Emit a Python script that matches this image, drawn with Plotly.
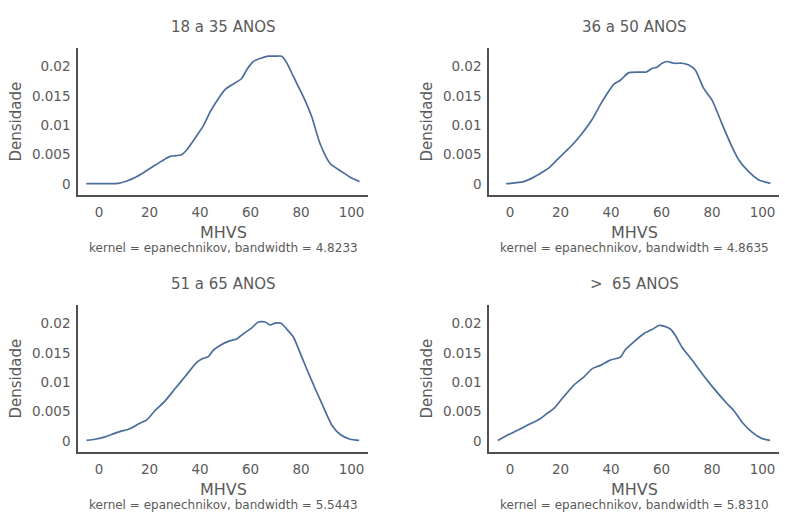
import plotly.graph_objects as go

# ---------------- data ----------------
panel_titles = ["18 a 35 ANOS", "36 a 50 ANOS", "51 a 65 ANOS", ">  65 ANOS"]
bandwidths = ["4.8233", "4.8635", "5.5443", "5.8310"]

x_18_35 = [-5, 3.7, 7.7, 11, 14.3, 18.2, 22.2, 24.8, 28.1, 30.1, 32.7, 34.7, 38, 41.3, 44, 47.3,
           49.9, 52.5, 56.5, 58.5, 61.1, 63.8, 67.1, 69.7, 72.3, 74.3, 77, 80.9, 84.2, 87.5,
           91.5, 96.1, 100, 103.1]
y_18_35 = [0.00005, 0.00005, 0.0001, 0.0005, 0.0011, 0.0021, 0.0032, 0.0039, 0.0047, 0.0048,
           0.0050, 0.0058, 0.0078, 0.0099, 0.0123, 0.0146, 0.0161, 0.0169, 0.0180, 0.0195,
           0.0209, 0.0214, 0.0218, 0.0218, 0.0218, 0.0207, 0.0183, 0.0149, 0.0115, 0.0069,
           0.0035, 0.0021, 0.0010, 0.0004]

x_36_50 = [-1.5, 2.1, 5.4, 8.7, 12, 15.3, 18.6, 21.9, 25.2, 28.5, 32.5, 36.4, 41.1, 43.7, 47,
           51, 54, 56.2, 58.2, 60.2, 62.2, 64.8, 68.1, 70.8, 73.4, 76.7, 80, 83.9, 87.3, 90.6,
           94.5, 98.5, 103.1]
y_36_50 = [0.00005, 0.0002, 0.0004, 0.0010, 0.0018, 0.0027, 0.0041, 0.0055, 0.0069, 0.0086,
           0.0110, 0.0140, 0.0170, 0.0177, 0.0190, 0.0191, 0.0191, 0.0197, 0.0199, 0.0206,
           0.0209, 0.0206, 0.0206, 0.0203, 0.0194, 0.0163, 0.0143, 0.0103, 0.0069, 0.0041,
           0.0021, 0.0007, 0.0001]

x_51_65 = [-4.9, -1.6, 2.4, 5, 8.3, 12.3, 15.6, 18.9, 22.2, 26.1, 30.1, 34.1, 38.7, 40.7, 43.3,
           45.3, 47.9, 51.2, 54.5, 57.2, 60.5, 63.1, 65.8, 67.7, 69.7, 72.1, 74.3, 77, 80.3,
           84.2, 88.2, 92.2, 95.5, 99.4, 103]
y_51_65 = [0.0001, 0.0003, 0.0007, 0.0011, 0.0016, 0.0021, 0.0029, 0.0036, 0.0052, 0.0068,
           0.0089, 0.0110, 0.0134, 0.0140, 0.0144, 0.0155, 0.0163, 0.0170, 0.0174, 0.0183,
           0.0193, 0.0203, 0.0203, 0.0198, 0.0201, 0.0201, 0.0191, 0.0177, 0.0143, 0.0103,
           0.0064, 0.0027, 0.0011, 0.0003, 0.0001]

x_65p = [-4.8, -0.5, 3.4, 7.4, 12, 14.7, 17.3, 20.6, 25.2, 29.2, 32.5, 35.8, 39.7, 43.7, 45.7,
         49, 52.9, 56.2, 58.9, 60.9, 63.5, 65.5, 68.1, 72.1, 76, 79.3, 82.6, 85.9, 88.6, 91.9,
         95.8, 99.8, 103]
y_65p = [0.0001, 0.0011, 0.0019, 0.0028, 0.0038, 0.0047, 0.0055, 0.0072, 0.0095, 0.0109,
         0.0123, 0.0129, 0.0138, 0.0143, 0.0156, 0.0169, 0.0183, 0.0190, 0.0197, 0.0196,
         0.0191, 0.0180, 0.0160, 0.0138, 0.0115, 0.0097, 0.0080, 0.0064, 0.0052, 0.0032,
         0.0015, 0.0004, 0.0001]

xs = [x_18_35, x_36_50, x_51_65, x_65p]
ys = [y_18_35, y_36_50, y_51_65, y_65p]

x_tickvals = [0, 20, 40, 60, 80, 100]
y_tickvals = [0, 0.005, 0.01, 0.015, 0.02]
y_ticktext = ["0", "0.005", "0.01", "0.015", "0.02"]

# ---------------- layout ----------------
W, H = 785, 514
FONT = "DejaVu Sans"
TXT = "#5a5a5a"
LINE = "#4a6d9c"

# pixel boxes of the four plot areas: (left, right, top, bottom)
boxes = [(78, 368, 48, 195), (489, 779, 48, 195), (78, 368, 305, 452), (489, 779, 305, 452)]

fig = go.Figure()
annotations = []
layout = {}
for i, (bx, x, y) in enumerate(zip(boxes, xs, ys)):
    l, r, t, b = bx
    sfx = "" if i == 0 else str(i + 1)
    fig.add_trace(go.Scatter(x=x, y=y, mode="lines",
                             line=dict(color=LINE, width=1.7, shape="spline", smoothing=0.6),
                             xaxis="x" + sfx, yaxis="y" + sfx, showlegend=False, hoverinfo="skip"))
    layout["xaxis" + sfx] = dict(domain=[l / W, r / W], anchor="y" + sfx, range=[-8.3, 106.5],
                                 tickvals=x_tickvals, showgrid=False, zeroline=False, showline=True,
                                 linecolor="#505050", linewidth=1.5, ticks="", ticklabelstandoff=4,
                                 tickfont=dict(family=FONT, size=13.5, color=TXT))
    layout["yaxis" + sfx] = dict(domain=[1 - b / H, 1 - t / H], anchor="x" + sfx,
                                 range=[-0.00188, 0.0232],
                                 tickvals=y_tickvals, ticktext=y_ticktext, showgrid=False,
                                 zeroline=False, showline=True, linecolor="#505050", linewidth=1.5,
                                 ticks="", ticklabelstandoff=3,
                                 tickfont=dict(family=FONT, size=13.5, color=TXT))
    cx = (l + r) / 2 / W
    annotations.append(dict(text=panel_titles[i], x=cx, y=1 - (t - 21) / H, xref="paper",
                            yref="paper", showarrow=False, font=dict(family=FONT, size=15, color=TXT),
                            xanchor="center", yanchor="middle"))
    annotations.append(dict(text="MHVS", x=cx, y=1 - (b + 37.5) / H, xref="paper", yref="paper",
                            showarrow=False, font=dict(family=FONT, size=16, color=TXT),
                            xanchor="center", yanchor="middle", borderpad=0))
    annotations.append(dict(text="kernel = epanechnikov, bandwidth = " + bandwidths[i], x=cx,
                            y=1 - (b + 53) / H, xref="paper", yref="paper", showarrow=False,
                            font=dict(family=FONT, size=12, color=TXT), xanchor="center",
                            yanchor="middle", borderpad=0))
    annotations.append(dict(text="Densidade", x=(l - 63) / W, y=1 - (t + b) / 2 / H,
                            xref="paper", yref="paper", showarrow=False, textangle=-90,
                            font=dict(family=FONT, size=15, color=TXT),
                            xanchor="center", yanchor="middle"))

fig.update_layout(width=W, height=H, margin=dict(l=0, r=0, t=0, b=0), paper_bgcolor="white",
                  plot_bgcolor="white", annotations=annotations, **layout)
fig.write_html("out.html", config={"displayModeBar": False},
               post_script="document.body.style.margin='0px';document.body.style.padding='0px';")
